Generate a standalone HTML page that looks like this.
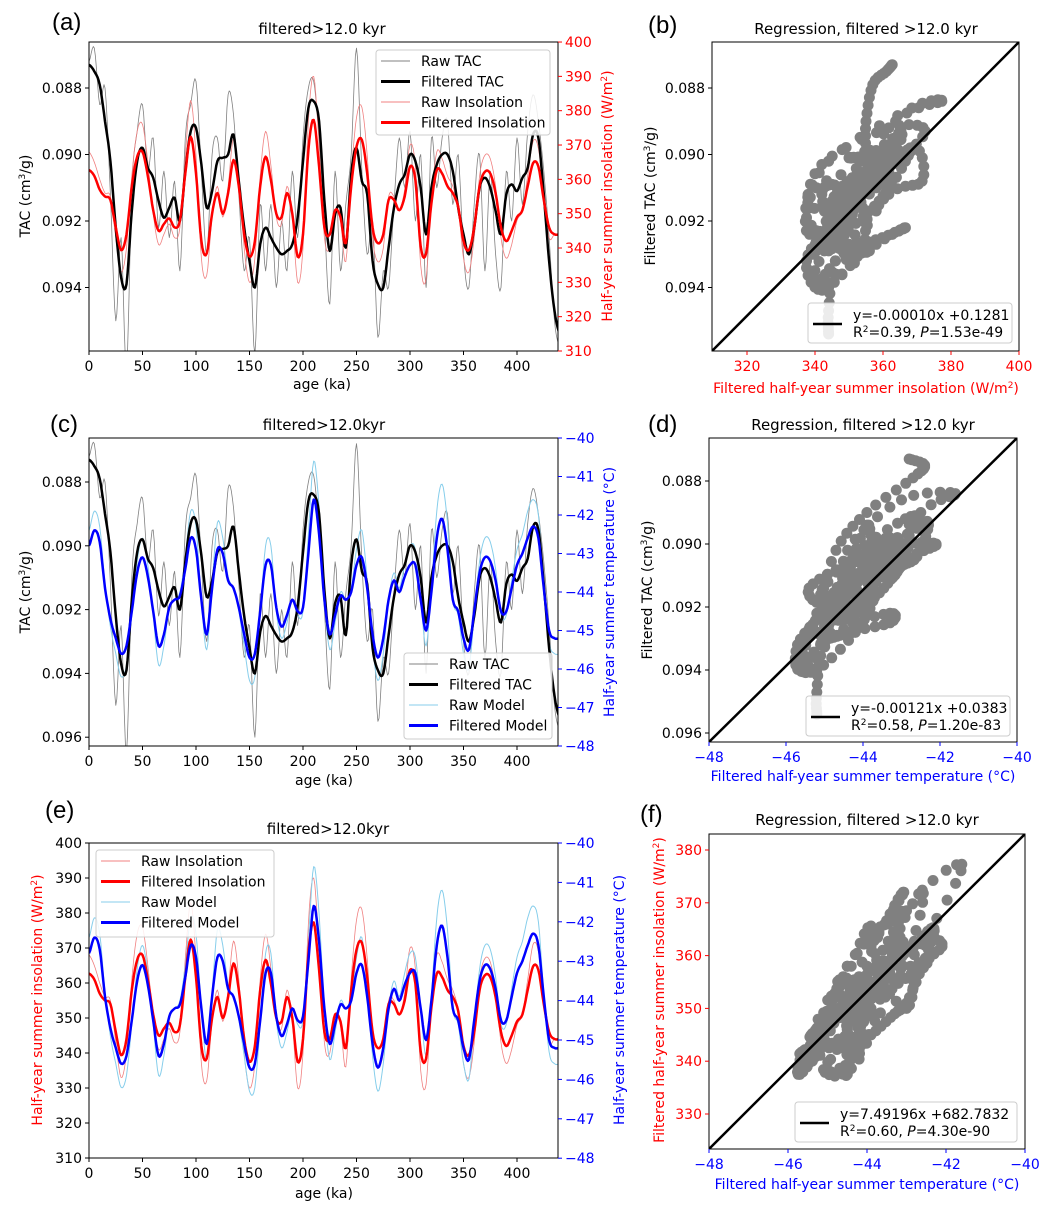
<!DOCTYPE html>
<html><head><meta charset="utf-8"><style>
body{margin:0;background:#fff;}
svg{font-family:"DejaVu Sans","Liberation Sans",sans-serif;}
</style></head><body>
<svg id="fig" width="1060" height="1212" viewBox="0 0 1060 1212" xmlns="http://www.w3.org/2000/svg"></svg>
<script>
const ages=[0,5,10,15,20,25,30,35,40,45,50,55,60,65,70,75,80,85,90,95,100,105,110,115,120,125,130,135,140,145,150,155,160,165,170,175,180,185,190,195,200,205,210,215,220,225,230,235,240,245,250,255,260,265,270,275,280,285,290,295,300,305,310,315,320,325,330,335,340,345,350,355,360,365,370,375,380,385,390,395,400,405,410,415,420,425,430,435,440];
const filtTAC=[0.0873,0.0875,0.0879,0.0890,0.0902,0.0922,0.0937,0.0939,0.0917,0.0902,0.0898,0.0904,0.0907,0.0914,0.0919,0.0916,0.0913,0.0920,0.0905,0.0893,0.0892,0.0903,0.0916,0.0911,0.0902,0.0901,0.0900,0.0894,0.0908,0.0922,0.0932,0.0940,0.0927,0.0922,0.0925,0.0928,0.0930,0.0929,0.0927,0.0919,0.0902,0.0886,0.0884,0.0890,0.0914,0.0929,0.0918,0.0916,0.0928,0.0906,0.0898,0.0908,0.0912,0.0932,0.0939,0.0940,0.0928,0.0916,0.0909,0.0906,0.0900,0.0902,0.0910,0.0924,0.0910,0.0903,0.0900,0.0900,0.0905,0.0916,0.0924,0.0930,0.0922,0.0910,0.0907,0.0910,0.0917,0.0924,0.0912,0.0909,0.0911,0.0907,0.0904,0.0894,0.0895,0.0912,0.0932,0.0947,0.0954];
const rawTAC=[0.0872,0.0868,0.0885,0.0880,0.0912,0.0950,0.0925,0.0965,0.0910,0.0893,0.0885,0.0905,0.0895,0.0922,0.0905,0.0925,0.0908,0.0935,0.0895,0.0885,0.0878,0.0905,0.0930,0.0900,0.0895,0.0908,0.0882,0.0888,0.0912,0.0935,0.0925,0.0960,0.0915,0.0935,0.0915,0.0940,0.0920,0.0935,0.0905,0.0925,0.0895,0.0880,0.0878,0.0895,0.0920,0.0945,0.0905,0.0935,0.0915,0.0900,0.0868,0.0905,0.0930,0.0920,0.0955,0.0935,0.0940,0.0915,0.0895,0.0910,0.0893,0.0920,0.0900,0.0940,0.0895,0.0910,0.0895,0.0890,0.0915,0.0900,0.0930,0.0940,0.0915,0.0900,0.0935,0.0905,0.0930,0.0940,0.0905,0.0920,0.0895,0.0915,0.0893,0.0882,0.0890,0.0905,0.0925,0.0950,0.0958];
const filtIns=[362.7,361,357,355,354,346,339.4,344,358,366.6,368,361,351,345,347,348.6,346,348,361.7,372.4,361.7,342,338.4,350,356,350,356,365.6,358,344,337.5,342,358,366.6,359.8,350,349,356,350,337.5,344,368.5,377.3,363.7,346,344,351,349,341.4,358,369.5,371.5,361.7,346,341.4,344,354,354,351,355,363.7,359.8,340.4,338.4,353,362.7,361.7,358,356,352,342,339.4,346,358,362.2,361.7,356,346,342,345,349,351,358,364.7,363.7,354,346,344,344];
const rawIns=[368,365,360,356,355,343,333,340,361,374,376,365,350,341,344,347,343,346,367,383,367,337,332,349,358,349,358,372,361,340,330,337,361,374,364,349,347,358,349,330,340,377,390,370,343,340,351,348,336,361,378,381,367,343,336,340,355,355,351,357,370,364,335,331,354,368,366,361,358,352,337,333,343,361,367,366,358,343,337,341,348,351,361,371,369,355,343,344,344];
const filtMod=[-42.8,-42.4,-42.7,-43.9,-44.7,-45.2,-45.6,-45.4,-44.5,-43.5,-43.1,-43.6,-44.5,-45.4,-45.1,-44.4,-44.2,-44.1,-43.4,-42.6,-42.9,-44.2,-45.1,-43.9,-42.9,-43.0,-43.7,-43.9,-44.4,-45.1,-45.7,-45.6,-44.5,-43.3,-43.3,-44.4,-44.9,-44.6,-44.2,-44.5,-44.4,-43.0,-41.6,-42.5,-44.2,-45.1,-44.6,-44.1,-44.2,-44.0,-43.3,-43.1,-43.9,-45.1,-45.7,-45.2,-44.2,-43.7,-44.0,-43.6,-43.3,-43.3,-44.2,-45.0,-44.0,-42.6,-42.1,-42.9,-44.2,-44.5,-45.2,-45.5,-44.5,-43.5,-43.1,-43.2,-43.7,-44.5,-44.5,-43.9,-43.3,-43.0,-42.6,-42.3,-42.6,-43.9,-45.0,-45.2,-45.2];
const rawMod=[-42.4,-41.9,-42.3,-43.8,-44.9,-45.6,-46.2,-45.9,-44.6,-43.2,-42.6,-43.3,-44.6,-45.9,-45.4,-44.4,-44.2,-44.0,-43.1,-41.9,-42.3,-44.2,-45.5,-43.8,-42.2,-42.6,-43.6,-43.9,-44.5,-45.4,-46.3,-46.2,-44.6,-42.8,-42.8,-44.5,-45.2,-44.8,-44.2,-44.6,-44.5,-42.5,-40.6,-41.8,-44.2,-45.5,-44.8,-44.0,-44.2,-43.9,-42.9,-42.4,-43.7,-45.4,-46.3,-45.6,-44.2,-43.5,-43.9,-43.3,-42.8,-42.9,-44.2,-45.4,-43.9,-41.9,-41.2,-42.2,-44.2,-44.6,-45.6,-46.0,-44.6,-43.2,-42.6,-42.7,-43.4,-44.6,-44.6,-43.7,-42.9,-42.5,-41.9,-41.6,-42.0,-43.8,-45.3,-45.6,-45.6];
const ageTicks=[0,50,100,150,200,250,300,350,400];
const tacTicksA=[0.088,0.090,0.092,0.094];
const tacTicksC=[0.088,0.090,0.092,0.094,0.096];
const insTicks=[310,320,330,340,350,360,370,380,390,400];
const insTicksB=[320,340,360,380,400];
const insTicksF=[330,340,350,360,370,380];
const modTicks=[-40,-41,-42,-43,-44,-45,-46,-47,-48];
const modTicksD=[-48,-46,-44,-42,-40];

const NS='http://www.w3.org/2000/svg';
const svg=document.getElementById('fig');
function mk(tag,attrs,name,parent){
  const el=document.createElementNS(NS,tag);
  for(const k in attrs) el.setAttribute(k,attrs[k]);
  
  
  (parent||svg).appendChild(el);
  return el;
}
function txt(s,x,y,o,name,parent){
  const t=mk('text',Object.assign({x:x,y:y,'font-size':14,fill:'#000'},o||{}),name,parent);
  t.innerHTML=s;return t;
}
const xAge=t=>89+t*1.07;
const yTacA=v=>88+(v-0.088)*33250;
const yInsA=v=>351-(v-310)*3.433;
const xInsB=v=>747+(v-320)*3.4;
const yTacC=v=>482+(v-0.088)*31900;
const yModC=v=>438+(-40-v)*38.5;
const xModD=v=>709+(v+48)*38.5;
const yTacD=v=>481+(v-0.088)*31500;
const yInsE=v=>843+(400-v)*3.5;
const yModE=v=>843+(-40-v)*39.4;
const xModF=v=>709+(v+48)*39.5;
const yInsF=v=>850+(380-v)*5.28;
const fmtNeg=v=>v<0?'\u2212'+Math.abs(v):''+v;

// Catmull-Rom interpolation of an array sampled on ages
function interp(arr,t){
  const n=arr.length;
  let i=Math.min(Math.floor(t/5),n-2);
  const f=(t-ages[i])/5;
  const p0=arr[Math.max(i-1,0)],p1=arr[i],p2=arr[i+1],p3=arr[Math.min(i+2,n-1)];
  return 0.5*((2*p1)+(-p0+p2)*f+(2*p0-5*p1+4*p2-p3)*f*f+(-p0+3*p1-3*p2+p3)*f*f*f);
}

let clipN=0;
function box(x0,x1,y0,y1,name){
  const g=mk('g',{},name);
  const id='c'+(clipN++);
  const cp=mk('clipPath',{id:id},'clip-region',g);
  mk('rect',{x:x0,y:y0,width:x1-x0,height:y1-y0},'clip-rect',cp);
  const inner=mk('g',{'clip-path':'url(#'+id+')'},'plot-area',g);
  return {g:g,inner:inner,x0:x0,x1:x1,y0:y0,y1:y1};
}
function frame(p){mk('rect',{x:p.x0,y:p.y0,width:p.x1-p.x0,height:p.y1-p.y0,fill:'none',stroke:'#000','stroke-width':1},'axes-frame',p.g);}
function series(p,ys,fx,fy,color,w,name){
  let d='';
  for(let t=0;t<=440;t+=1){d+=(t?'L':'M')+fx(t).toFixed(1)+','+fy(interp(ys,t)).toFixed(1);}
  mk('path',{d:d,fill:'none',stroke:color,'stroke-width':w,'stroke-linejoin':'round'},name,p.inner);
}
function xticks(p,ticks,fx,color,fmt,name){
  ticks.forEach(t=>{const x=fx(t);
    mk('line',{x1:x,x2:x,y1:p.y1,y2:p.y1+4,stroke:color},'x-tick',p.g);
    txt(fmt(t),x,p.y1+20,{'text-anchor':'middle',fill:color},name,p.g);});
}
function yticks(p,ticks,fy,color,fmt,side,name){
  ticks.forEach(t=>{const y=fy(t);
    if(side==='l'){mk('line',{x1:p.x0-4,x2:p.x0,y1:y,y2:y,stroke:color},'y-tick',p.g);
      txt(fmt(t),p.x0-7,y+5,{'text-anchor':'end',fill:color},name,p.g);}
    else{mk('line',{x1:p.x1,x2:p.x1+4,y1:y,y2:y,stroke:color},'y2-tick',p.g);
      txt(fmt(t),p.x1+7,y+5,{'text-anchor':'start',fill:color},name,p.g);}});
}
function vlabel(s,x,y,color,name){txt(s,x,y,{'text-anchor':'middle',fill:color,transform:'rotate(-90 '+x+' '+y+')'},name);}
function legend(x,y,w,h,items,name){
  const g=mk('g',{},name);
  mk('rect',{x:x,y:y,width:w,height:h,fill:'#fff','fill-opacity':0.85,stroke:'#ccc',rx:3},'legend-box',g);
  items.forEach((it,i)=>{const yy=y+11+i*20.5;
    mk('line',{x1:x+5,x2:x+34,y1:yy,y2:yy,stroke:it[1],'stroke-width':it[2]},'legend-line',g);
    txt(it[0],x+45,yy+5,{},'legend-entry',g);});
}
function scatter(p,A,B,fx,fy,name){
  const g=mk('g',{},name,p.inner);
  for(let t=0;t<=440;t+=1){
    mk('circle',{cx:fx(interp(A,t)).toFixed(1),cy:fy(interp(B,t)).toFixed(1),r:5.5,fill:'#808080'},'scatter-point',g);
  }
  mk('line',{x1:p.x0,y1:p.y1,x2:p.x1,y2:p.y0,stroke:'#000','stroke-width':2.5},'regression-line',p.inner);
}
function regLegend(x,y,w,eq,r2,P,name){
  const g=mk('g',{},name);
  mk('rect',{x:x,y:y,width:w,height:40,fill:'#fff','fill-opacity':0.85,stroke:'#ccc',rx:3},'legend-box',g);
  mk('line',{x1:x+5,x2:x+34,y1:y+21,y2:y+21,stroke:'#000','stroke-width':2.5},'legend-line',g);
  txt(eq,x+45,y+17,{},'regression-equation',g);
  txt('R<tspan dy="-5" font-size="9">2</tspan><tspan dy="5">='+r2+', </tspan><tspan font-style="italic">P</tspan>='+P,x+45,y+34,{},'regression-stats',g);
}

// Panel (a)
let p=box(89,558,42,351,'panel-a');
series(p,rawTAC,xAge,yTacA,'#808080',0.8,'raw-tac-line');
series(p,rawIns,xAge,yInsA,'#f08080',0.8,'raw-insolation-line');
series(p,filtTAC,xAge,yTacA,'#000',2.5,'filtered-tac-line');
series(p,filtIns,xAge,yInsA,'#ff0000',2.5,'filtered-insolation-line');
frame(p);
xticks(p,ageTicks,xAge,'#000',v=>''+v,'x-tick-label');
yticks(p,tacTicksA,yTacA,'#000',v=>v.toFixed(3),'l','y-tick-label');
yticks(p,insTicks,yInsA,'#ff0000',v=>''+v,'r','y2-tick-label');
legend(376,50,174,85,[['Raw TAC','#808080',1],['Filtered TAC','#000',3],['Raw Insolation','#f08080',1],['Filtered Insolation','#ff0000',3]],'legend-a');
txt('filtered&gt;12.0 kyr',322,34,{'text-anchor':'middle','font-size':15},'title-a');
txt('(a)',52,30,{'font-size':24,'font-family':'Liberation Sans, sans-serif'},'panel-label-a');
txt('age (ka)',322,389,{'text-anchor':'middle'},'x-axis-title-a');
vlabel('TAC (cm<tspan dy="-5" font-size="9">3</tspan><tspan dy="5">/g)</tspan>',30,196,'#000','y-axis-title-a');
vlabel('Half-year summer insolation (W/m<tspan dy="-5" font-size="9">2</tspan><tspan dy="5">)</tspan>',612,196,'#ff0000','y2-axis-title-a');

// Panel (b)
p=box(712,1019,42,351,'panel-b');
scatter(p,filtIns,filtTAC,xInsB,yTacA,'scatter-b');
frame(p);
xticks(p,insTicksB,xInsB,'#ff0000',v=>''+v,'x-tick-label');
yticks(p,tacTicksA,yTacA,'#000',v=>v.toFixed(3),'l','y-tick-label');
regLegend(808,303,204,'y=-0.00010x +0.1281','0.39','1.53e-49','legend-b');
txt('Regression, filtered &gt;12.0 kyr',866,34,{'text-anchor':'middle','font-size':15},'title-b');
txt('(b)',648,33,{'font-size':24,'font-family':'Liberation Sans, sans-serif'},'panel-label-b');
txt('Filtered half-year summer insolation (W/m<tspan dy="-5" font-size="9">2</tspan><tspan dy="5">)</tspan>',866,393,{'text-anchor':'middle',fill:'#ff0000'},'x-axis-title-b');
vlabel('Filtered TAC (cm<tspan dy="-5" font-size="9">3</tspan><tspan dy="5">/g)</tspan>',655,196,'#000','y-axis-title-b');

// Panel (c)
p=box(89,558,438,746,'panel-c');
series(p,rawTAC,xAge,yTacC,'#808080',0.8,'raw-tac-line');
series(p,rawMod,xAge,yModC,'#87ceeb',1,'raw-model-line');
series(p,filtTAC,xAge,yTacC,'#000',2.5,'filtered-tac-line');
series(p,filtMod,xAge,yModC,'#0000ff',2.5,'filtered-model-line');
frame(p);
xticks(p,ageTicks,xAge,'#000',v=>''+v,'x-tick-label');
yticks(p,tacTicksC,yTacC,'#000',v=>v.toFixed(3),'l','y-tick-label');
yticks(p,modTicks,yModC,'#0000ff',fmtNeg,'r','y2-tick-label');
legend(404,653,148,86,[['Raw TAC','#808080',1],['Filtered TAC','#000',3],['Raw Model','#87ceeb',1],['Filtered Model','#0000ff',3]],'legend-c');
txt('filtered&gt;12.0kyr',324,430,{'text-anchor':'middle','font-size':15},'title-c');
txt('(c)',50,432,{'font-size':24,'font-family':'Liberation Sans, sans-serif'},'panel-label-c');
txt('age (ka)',324,785,{'text-anchor':'middle'},'x-axis-title-c');
vlabel('TAC (cm<tspan dy="-5" font-size="9">3</tspan><tspan dy="5">/g)</tspan>',30,592,'#000','y-axis-title-c');
vlabel('Half-year summer temperature (°C)',614,592,'#0000ff','y2-axis-title-c');

// Panel (d)
p=box(709,1017,438,742,'panel-d');
scatter(p,filtMod,filtTAC,xModD,yTacD,'scatter-d');
frame(p);
xticks(p,modTicksD,xModD,'#0000ff',fmtNeg,'x-tick-label');
yticks(p,tacTicksC,yTacD,'#000',v=>v.toFixed(3),'l','y-tick-label');
regLegend(806,696,204,'y=-0.00121x +0.0383','0.58','1.20e-83','legend-d');
txt('Regression, filtered &gt;12.0 kyr',863,430,{'text-anchor':'middle','font-size':15},'title-d');
txt('(d)',648,432,{'font-size':24,'font-family':'Liberation Sans, sans-serif'},'panel-label-d');
txt('Filtered half-year summer temperature (°C)',863,781,{'text-anchor':'middle',fill:'#0000ff'},'x-axis-title-d');
vlabel('Filtered TAC (cm<tspan dy="-5" font-size="9">3</tspan><tspan dy="5">/g)</tspan>',652,590,'#000','y-axis-title-d');

// Panel (e)
p=box(89,558,843,1158,'panel-e');
series(p,rawIns,xAge,yInsE,'#f08080',0.8,'raw-insolation-line');
series(p,rawMod,xAge,yModE,'#87ceeb',1,'raw-model-line');
series(p,filtIns,xAge,yInsE,'#ff0000',2.5,'filtered-insolation-line');
series(p,filtMod,xAge,yModE,'#0000ff',2.5,'filtered-model-line');
frame(p);
xticks(p,ageTicks,xAge,'#000',v=>''+v,'x-tick-label');
yticks(p,insTicks,yInsE,'#000',v=>''+v,'l','y-tick-label');
yticks(p,modTicks,yModE,'#0000ff',fmtNeg,'r','y2-tick-label');
legend(96,850,178,87,[['Raw Insolation','#f08080',1],['Filtered Insolation','#ff0000',3],['Raw Model','#87ceeb',1],['Filtered Model','#0000ff',3]],'legend-e');
txt('filtered&gt;12.0kyr',328,834,{'text-anchor':'middle','font-size':15},'title-e');
txt('(e)',45,818,{'font-size':24,'font-family':'Liberation Sans, sans-serif'},'panel-label-e');
txt('age (ka)',324,1198,{'text-anchor':'middle'},'x-axis-title-e');
vlabel('Half-year summer insolation (W/m<tspan dy="-5" font-size="9">2</tspan><tspan dy="5">)</tspan>',42,1000,'#ff0000','y-axis-title-e');
vlabel('Half-year summer temperature (°C)',624,1000,'#0000ff','y2-axis-title-e');

// Panel (f)
p=box(709,1025,834,1149,'panel-f');
scatter(p,filtMod,filtIns,xModF,yInsF,'scatter-f');
frame(p);
xticks(p,modTicksD,xModF,'#0000ff',fmtNeg,'x-tick-label');
yticks(p,insTicksF,yInsF,'#ff0000',v=>''+v,'l','y-tick-label');
regLegend(795,1102,222,'y=7.49196x +682.7832','0.60','4.30e-90','legend-f');
txt('Regression, filtered &gt;12.0 kyr',867,825,{'text-anchor':'middle','font-size':15},'title-f');
txt('(f)',640,822,{'font-size':24,'font-family':'Liberation Sans, sans-serif'},'panel-label-f');
txt('Filtered half-year summer temperature (°C)',867,1189,{'text-anchor':'middle',fill:'#0000ff'},'x-axis-title-f');
vlabel('Filtered half-year summer insolation (W/m<tspan dy="-5" font-size="9">2</tspan><tspan dy="5">)</tspan>',664,990,'#ff0000','y-axis-title-f');
</script>
</body></html>
